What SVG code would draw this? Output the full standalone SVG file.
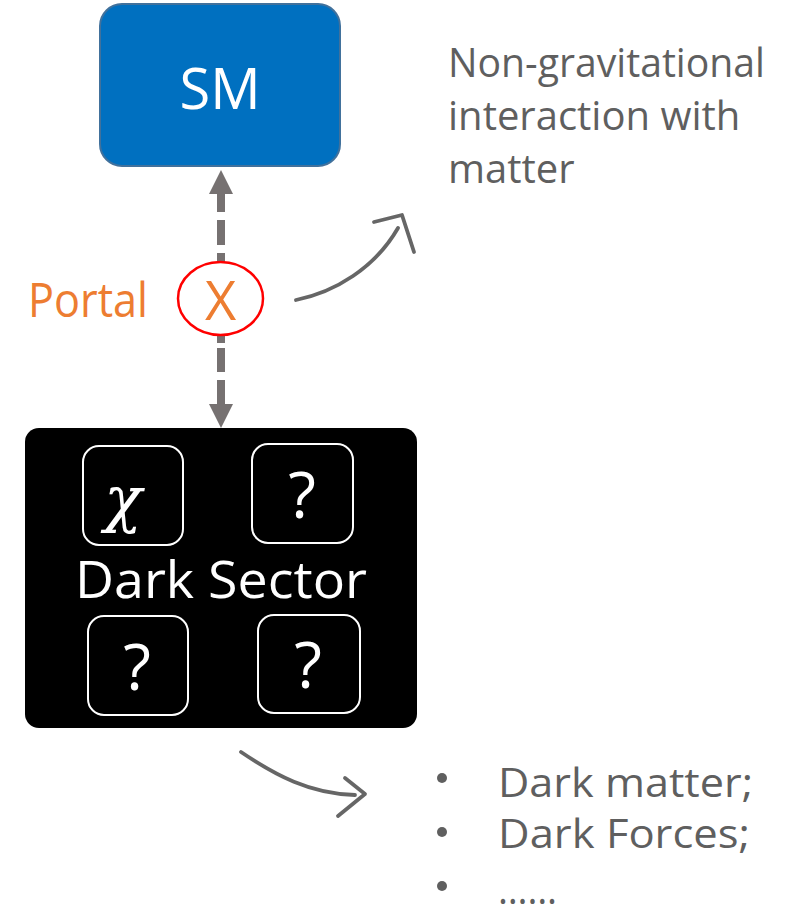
<svg xmlns="http://www.w3.org/2000/svg" width="791" height="909" viewBox="0 0 791 909">
<style>
.t{font-family:"Open Sans","Liberation Sans",sans-serif}
.gray{fill:#5f5f5f}
.orange{fill:#ED7D31}
.white{fill:#ffffff}
.inner{fill:none;stroke:#ffffff;stroke-width:2}
.sketch{fill:none;stroke:#555555;stroke-width:3.8;stroke-linecap:round;stroke-linejoin:round;opacity:0.9}
.dash{stroke:#767171;stroke-width:8;fill:none}
.head{fill:#767171}
</style>
<rect width="791" height="909" fill="#ffffff"/>
<g id="connectors">
  <path class="dash" d="M221 193 L221 212 M221 220 L221 245 M221 253 L221 262 M221 334 L221 343 M221 348 L221 372 M221 380 L221 406"/>
  <polygon class="head" points="221,170 209,194 233,194"/>
  <polygon class="head" points="221,428 209,404 233,404"/>
  <path class="sketch" d="M296 300 C 335 292, 375 268, 398 228"/>
  <path class="sketch" d="M374 222 L402 215 L414 252"/>
  <path class="sketch" d="M241 752 C 275 775, 310 794, 355 795"/>
  <path class="sketch" d="M345 778 L365 794 L338 816"/>
</g>
<g id="sm">
  <rect x="100" y="4" width="240" height="162" rx="22" fill="#0070C0" stroke="#41719C" stroke-width="2"/>
  <text class="t white" x="220" y="109" font-size="56" text-anchor="middle">SM</text>
</g>
<g id="portal">
  <ellipse cx="220.5" cy="298.5" rx="42.5" ry="36.5" fill="#ffffff" stroke="#FF0000" stroke-width="2.5"/>
  <text class="t orange" x="220.5" y="320" font-size="54" text-anchor="middle">X</text>
  <text class="t orange" x="28" y="317" font-size="47" textLength="120" lengthAdjust="spacingAndGlyphs">Portal</text>
</g>
<g id="note-top">
  <text class="t gray" font-size="40">
    <tspan x="448" y="77" textLength="317" lengthAdjust="spacingAndGlyphs">Non-gravitational</tspan>
    <tspan x="448" y="130">interaction with</tspan>
    <tspan x="448" y="183">matter</tspan>
  </text>
</g>
<g id="dark-sector">
  <rect x="25" y="428" width="392" height="300" rx="14" fill="#000000"/>
  <rect class="inner" x="83" y="446" width="100" height="99" rx="16"/>
  <rect class="inner" x="252" y="444" width="101" height="99" rx="16"/>
  <rect class="inner" x="88" y="616" width="100" height="99" rx="16"/>
  <rect class="inner" x="258" y="615" width="102" height="98" rx="16"/>
  <text x="123" y="520" font-family="'DejaVu Serif','Liberation Serif',serif" font-style="italic" font-size="62" class="white" text-anchor="middle">χ</text>
  <text class="t white" x="302" y="518" font-size="64" text-anchor="middle">?</text>
  <text class="t white" x="137" y="690" font-size="64" text-anchor="middle">?</text>
  <text class="t white" x="308" y="688" font-size="64" text-anchor="middle">?</text>
  <text class="t white" x="75" y="598" font-size="52" textLength="292" lengthAdjust="spacingAndGlyphs">Dark Sector</text>
</g>
<g id="note-bottom">
  <circle cx="442" cy="778" r="5" fill="#5f5f5f"/>
  <circle cx="442" cy="832" r="5" fill="#5f5f5f"/>
  <circle cx="442" cy="886" r="5" fill="#5f5f5f"/>
  <text class="t gray" x="498" y="797" font-size="40" textLength="255" lengthAdjust="spacingAndGlyphs">Dark matter;</text>
  <text class="t gray" x="498" y="848" font-size="40" textLength="252" lengthAdjust="spacingAndGlyphs">Dark Forces;</text>
  <text class="t gray" x="498" y="904" font-size="40" textLength="59" lengthAdjust="spacingAndGlyphs">……</text>
</g>
</svg>
